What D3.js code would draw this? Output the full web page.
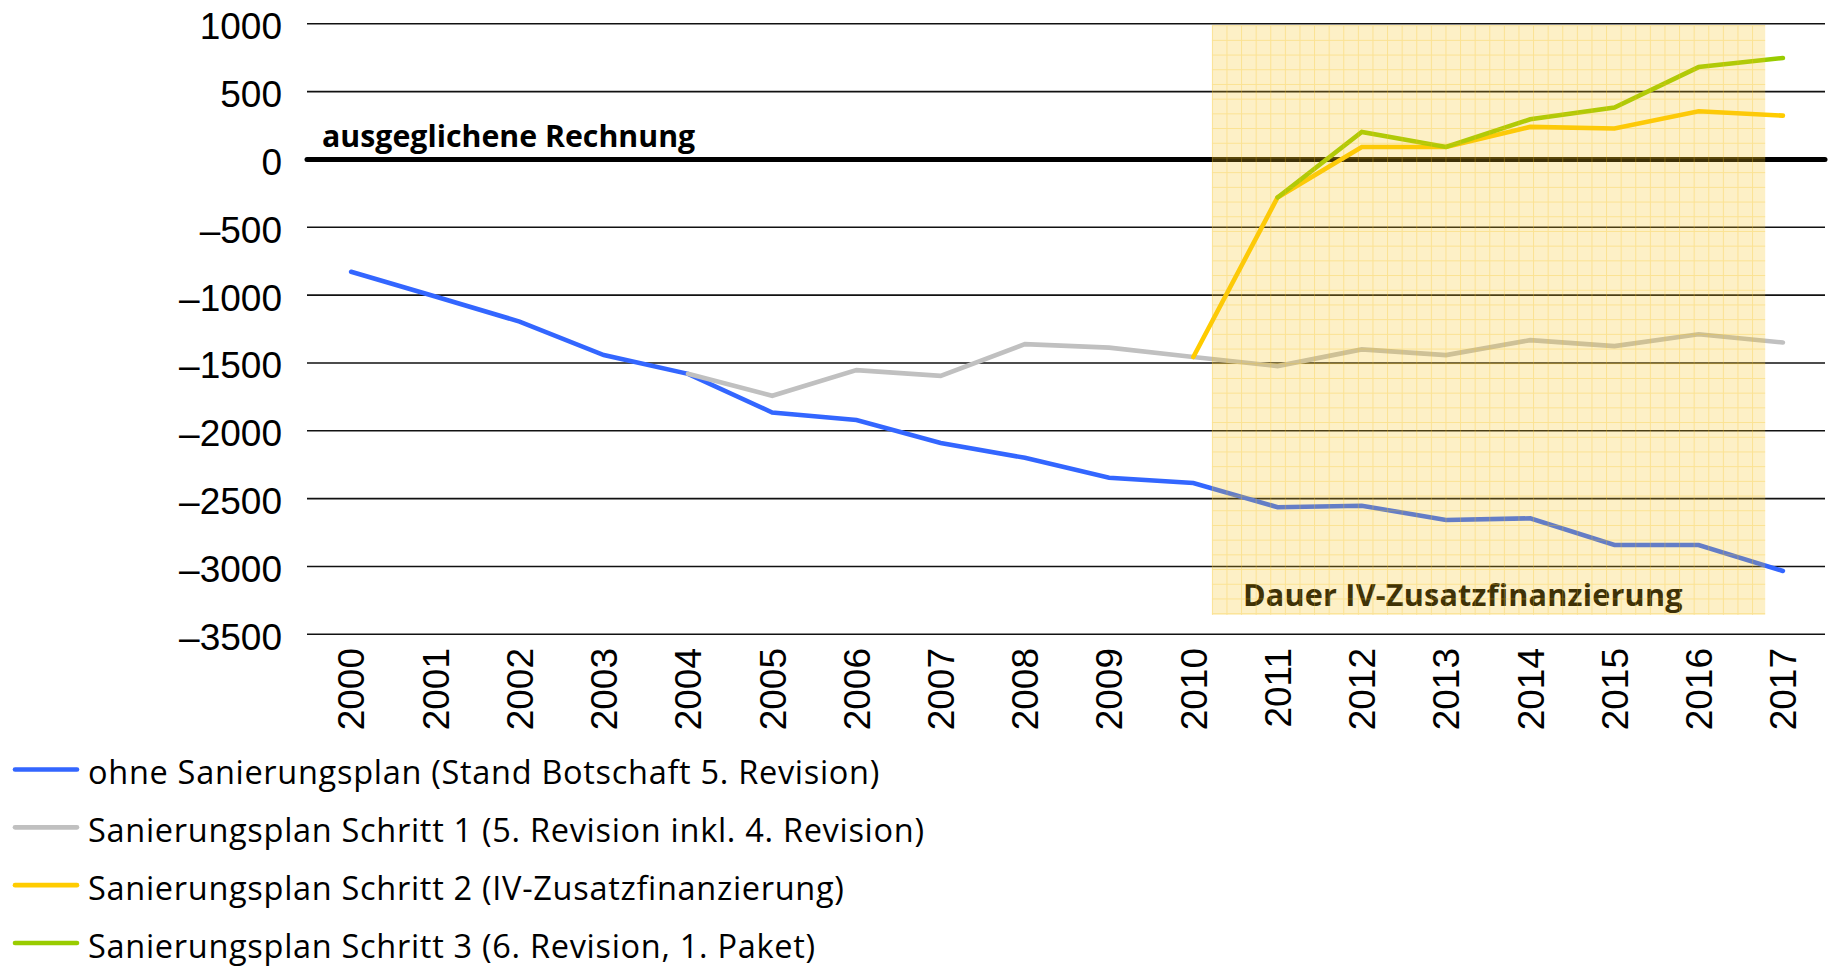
<!DOCTYPE html>
<html>
<head>
<meta charset="utf-8">
<script src="https://cdn.jsdelivr.net/npm/d3@7"></script>
<style>
  html, body { margin: 0; padding: 0; background: #fff; }
  svg { display: block; }
</style>
</head>
<body>
<svg id="chart" width="1835" height="967"></svg>
<script>
// ---- data ----
const years = [2000,2001,2002,2003,2004,2005,2006,2007,2008,2009,2010,2011,2012,2013,2014,2015,2016,2017];
const yTicks = [1000, 500, 0, -500, -1000, -1500, -2000, -2500, -3000, -3500];
const yTickLabels = ["1000","500","0","–500","–1000","–1500","–2000","–2500","–3000","–3500"];

const ohneSanierung = [-828,-1010,-1195,-1442,-1580,-1865,-1921,-2090,-2199,-2346,-2385,-2563,-2552,-2658,-2645,-2842,-2842,-3033];
const schritt1 = [null,null,null,null,-1580,-1742,-1553,-1595,-1361,-1387,-1456,-1523,-1400,-1442,-1332,-1376,-1288,-1349];
const schritt2 = [null,null,null,null,null,null,null,null,null,null,-1456,-280,92,92,240,228,355,323];
const schritt3 = [null,null,null,null,null,null,null,null,null,null,null,-280,203,92,296,382,681,748];

const seriesNames = [
  "ohne Sanierungsplan (Stand Botschaft 5. Revision)",
  "Sanierungsplan Schritt 1 (5. Revision inkl. 4. Revision)",
  "Sanierungsplan Schritt 2 (IV-Zusatzfinanzierung)",
  "Sanierungsplan Schritt 3 (6. Revision, 1. Paket)"
];
const seriesColors = ["#3366ff", "#c0c0c0", "#ffcc00", "#99cc00"];
const seriesValues = [ohneSanierung, schritt1, schritt2, schritt3];

// shaded period (in data units)
const shadeYears = [2010.22, 2016.79];
const shadeValues = [990, -3357];
const shadeLabel = "Dauer IV-Zusatzfinanzierung";
const zeroLabel = "ausgeglichene Rechnung";

// ---- layout ----
const svg = d3.select("#chart");
const x = d3.scaleLinear().domain([1999.5, 2017.5]).range([309, 1825]);
const y = d3.scaleLinear().domain([-3500, 1000]).range([634.3, 23.8]);
const axisFont = "'Liberation Sans', Arial, sans-serif";
const textFont = "'Open Sans', 'Noto Sans', sans-serif";

// defs: grid pattern for the shaded region
const defs = svg.append("defs");
const pat = defs.append("pattern")
  .attr("id", "gridpat")
  .attr("patternUnits", "userSpaceOnUse")
  .attr("x", x(shadeYears[0])).attr("y", y(shadeValues[0]))
  .attr("width", 14.6).attr("height", 14.7);
pat.append("rect").attr("width", 14.6).attr("height", 14.7).attr("fill", "rgba(247,195,27,0.25)");
pat.append("path").attr("d", "M0,0.5H14.6M0.5,0V14.7")
  .attr("stroke", "rgba(247,195,27,0.3)").attr("stroke-width", 1).attr("fill", "none");

// gridlines
const gridX0 = x.range()[0] - 2;
const gridX1 = x.range()[1];
svg.append("g").selectAll("line")
  .data(yTicks.filter(d => d !== 0))
  .join("line")
  .attr("x1", gridX0).attr("x2", gridX1)
  .attr("y1", d => y(d)).attr("y2", d => y(d))
  .attr("stroke", "#111").attr("stroke-width", 1.6);

// zero line
svg.append("line")
  .attr("x1", gridX0).attr("x2", gridX1)
  .attr("y1", y(0)).attr("y2", y(0))
  .attr("stroke", "#000").attr("stroke-width", 5).attr("stroke-linecap", "round");

// y axis labels
svg.append("g").selectAll("text")
  .data(yTicks)
  .join("text")
  .attr("x", 282)
  .attr("y", d => y(d) + 15.5)
  .attr("text-anchor", "end")
  .attr("font-family", axisFont)
  .attr("font-size", 37)
  .attr("fill", "#000")
  .text((d, i) => yTickLabels[i]);

// x axis labels (rotated)
svg.append("g").selectAll("text")
  .data(years)
  .join("text")
  .attr("transform", d => `translate(${x(d) + 13.3},648) rotate(-90)`)
  .attr("text-anchor", "end")
  .attr("font-family", axisFont)
  .attr("font-size", 37)
  .attr("fill", "#000")
  .text(d => d);

// lines
const line = d3.line()
  .defined(d => d.v !== null)
  .x(d => x(d.year))
  .y(d => y(d.v));

seriesValues.forEach((vals, i) => {
  const pts = years.map((yr, j) => ({ year: yr, v: vals[j] }));
  svg.append("path")
    .datum(pts)
    .attr("d", line)
    .attr("fill", "none")
    .attr("stroke", seriesColors[i])
    .attr("stroke-width", 4.6)
    .attr("stroke-linecap", "round")
    .attr("stroke-linejoin", "miter");
});

// zero annotation
svg.append("text")
  .attr("x", 322).attr("y", 147)
  .attr("font-family", textFont)
  .attr("font-weight", "bold")
  .attr("font-size", 30.3)
  .attr("fill", "#000")
  .text(zeroLabel);

// shaded label (under the overlay)
svg.append("text")
  .attr("x", 1243).attr("y", 606)
  .attr("font-family", textFont)
  .attr("font-weight", "bold")
  .attr("font-size", 30.6)
  .attr("letter-spacing", 0.2)
  .attr("fill", "#000")
  .text(shadeLabel);

// shaded overlay
svg.append("rect")
  .attr("x", x(shadeYears[0]))
  .attr("y", y(shadeValues[0]))
  .attr("width", x(shadeYears[1]) - x(shadeYears[0]))
  .attr("height", y(shadeValues[1]) - y(shadeValues[0]))
  .attr("fill", "url(#gridpat)");

// legend
const legend = svg.append("g");
const legendY = d3.scaleLinear().domain([0, 3]).range([769.5, 943]);
seriesNames.forEach((name, i) => {
  const ly = legendY(i);
  legend.append("line")
    .attr("x1", 15).attr("x2", 77)
    .attr("y1", ly).attr("y2", ly)
    .attr("stroke", seriesColors[i])
    .attr("stroke-width", 4.6)
    .attr("stroke-linecap", "round");
  legend.append("text")
    .attr("x", 88).attr("y", ly + 14.5)
    .attr("font-family", textFont)
    .attr("font-size", 32.5)
    .attr("letter-spacing", 0.7)
    .attr("fill", "#000")
    .text(name);
});
</script>
</body>
</html>
